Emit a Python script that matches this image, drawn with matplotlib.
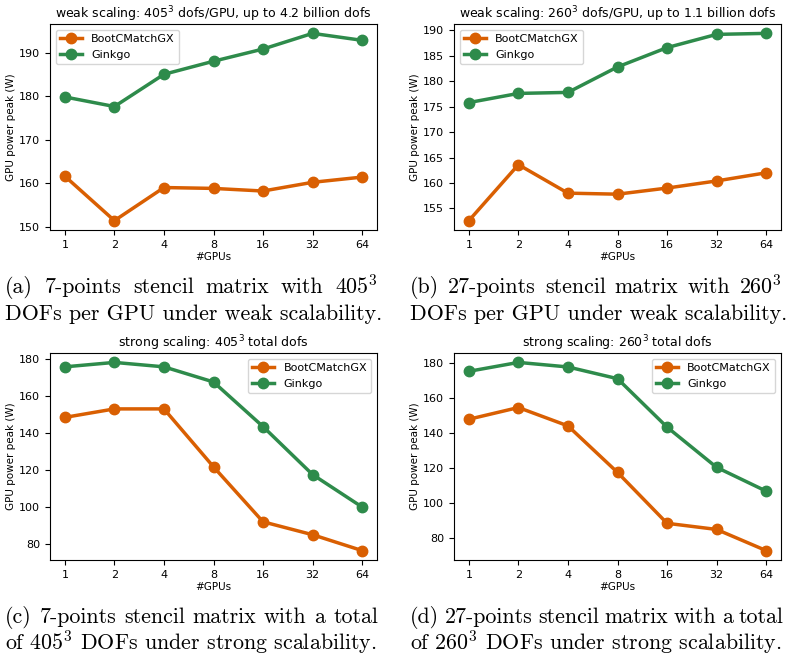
import matplotlib
matplotlib.use("Agg")
import matplotlib.pyplot as plt

# number of GPUs
gpus = [1, 2, 4, 8, 16, 32, 64]
gpu_labels = ["1", "2", "4", "8", "16", "32", "64"]

# GPU power peak (W), weak scaling
weak405_bcm = [161.6, 151.4, 159.0, 158.8, 158.2, 160.2, 161.4]
weak405_gko = [179.8, 177.6, 185.0, 188.0, 190.8, 194.4, 192.8]
weak260_bcm = [152.6, 163.6, 158.0, 157.8, 159.0, 160.4, 162.0]
weak260_gko = [175.8, 177.6, 177.8, 182.8, 186.6, 189.2, 189.4]

# GPU power peak (W), strong scaling
strong405_bcm = [148.6, 153.2, 153.2, 121.8, 92.0, 85.0, 76.4]
strong405_gko = [176.0, 178.4, 176.0, 167.8, 143.6, 117.6, 100.0]
strong260_bcm = [148.0, 154.7, 144.2, 117.6, 88.5, 85.0, 72.9]
strong260_gko = [175.4, 180.5, 177.9, 171.2, 143.5, 120.5, 106.9]

titles = ["weak scaling: $405^3$ dofs/GPU, up to 4.2 billion dofs",
          "weak scaling: $260^3$ dofs/GPU, up to 1.1 billion dofs",
          "strong scaling: $405^3$ total dofs",
          "strong scaling: $260^3$ total dofs"]

# sub-figure captions, two lines each (first line justified like LaTeX)
captions = [("(a) 7-points stencil matrix with $405^3$",
             "DOFs per GPU under weak scalability."),
            ("(b) 27-points stencil matrix with $260^3$",
             "DOFs per GPU under weak scalability."),
            ("(c) 7-points stencil matrix with a total",
             "of $405^3$ DOFs under strong scalability."),
            ("(d) 27-points stencil matrix with a total",
             "of $260^3$ DOFs under strong scalability.")]

ORANGE = "#d95f02"
GREEN = "#2e8b4b"
CAP_SIZE = 15.8

fig = plt.figure(figsize=(7.89, 6.63), dpi=100)
W, H = 789, 663
renderer = fig.canvas.get_renderer()


def caption_text(x, y, s):
    """Places caption text with its baseline at pixel (x, y)."""
    return fig.text(x / W, 1 - y / H, s, family="cmr10", fontsize=CAP_SIZE,
                    va="baseline", ha="left", math_fontfamily="cm")


def justified_line(x0, x1, y, s):
    """Spreads the words of s so that the line runs from x0 to x1."""
    words = s.split(" ")
    items = [caption_text(x0, y, w) for w in words]
    widths = [t.get_window_extent(renderer).width for t in items]
    gap = (x1 - x0 - sum(widths)) / (len(words) - 1)
    x = x0
    for t, w in zip(items, widths):
        t.set_x(x / W)
        x += w + gap


# axes boxes in pixels: left, top, right, bottom
boxes = [(50, 24, 377, 230), (454, 24, 781, 230),
         (50, 353, 377, 560), (454, 353, 781, 560)]
series = [(weak405_bcm, weak405_gko), (weak260_bcm, weak260_gko),
          (strong405_bcm, strong405_gko), (strong260_bcm, strong260_gko)]
legend_locs = ["upper left", "upper left", "upper right", "upper right"]
# caption: left, right, baseline of first line, baseline of second line
caption_pos = [(5, 378, 293, 320), (410, 782, 293, 320),
               (5, 378, 623, 649), (410, 783, 623, 649)]

for i in range(4):
    l, t, r, b = boxes[i]
    ax = fig.add_axes([l / W, 1 - b / H, (r - l) / W, (b - t) / H])
    bcm, gko = series[i]
    ax.plot(gpus, bcm, "-o", color=ORANGE, lw=2.5, ms=7.5, label="BootCMatchGX")
    ax.plot(gpus, gko, "-o", color=GREEN, lw=2.5, ms=7.5, label="Ginkgo")
    ax.set_xscale("log", base=2)
    ax.set_xticks(gpus)
    ax.set_xticklabels(gpu_labels)
    ax.minorticks_off()
    ax.tick_params(labelsize=8)
    ax.set_xlabel("#GPUs", fontsize=7.5, labelpad=2)
    ax.set_ylabel("GPU power peak (W)", fontsize=7.5, labelpad=2)
    ax.set_title(titles[i], fontsize=9, pad=4)
    ax.legend(loc=legend_locs[i], fontsize=8)

    x0, x1, y1, y2 = caption_pos[i]
    justified_line(x0, x1, y1, captions[i][0])
    caption_text(x0, y2, captions[i][1])

fig.savefig("out.png", dpi=100)
